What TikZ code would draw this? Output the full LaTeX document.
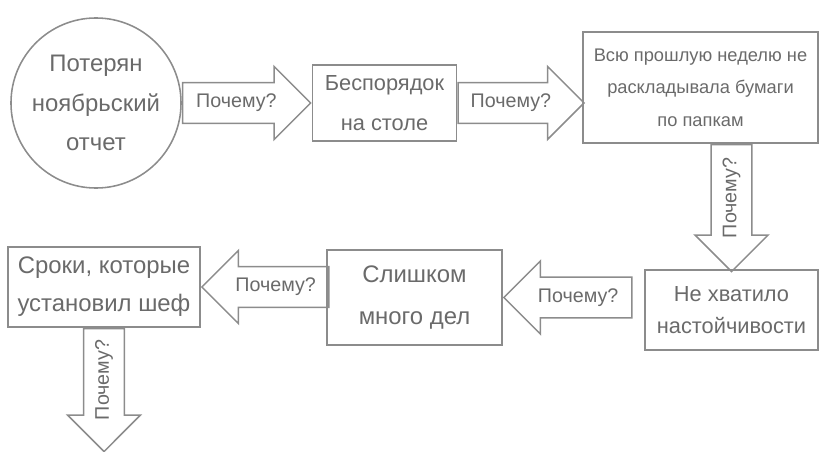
\documentclass[tikz,border=0pt]{standalone}
\usepackage{fontspec}
\setmainfont{Liberation Sans}
\usetikzlibrary{shapes.arrows,positioning}
\definecolor{WhyLine}{HTML}{8C8C8C}
\definecolor{WhyText}{HTML}{6A6A6A}

\begin{document}
\begin{tikzpicture}[
 x=0.025cm,y=-0.025cm,
 box/.style={draw=WhyLine,line width=1.1pt,align=center,inner sep=0pt,font=\fontsize{16}{28}\selectfont,text=WhyText},
 whyarrow/.style={single arrow,draw=WhyLine,line width=1.1pt,single arrow head extend=0.4cm,single arrow head indent=0pt,inner xsep=2pt,inner ysep=7.5pt,text height=10pt,text depth=3pt,font=\fontsize{14}{16}\selectfont,text=WhyText},
 toleft/.style={shape border rotate=180},
 todown/.style={rotate=90,shape border rotate=180}
]
\useasboundingbox (0,0) rectangle (820,452);
% top row
\node[box,circle,minimum size=4.25cm,font=\fontsize{17}{28}\selectfont] (lost) at (96,103) {Потерян\\ноябрьский\\отчет};
\node[whyarrow,anchor=tail,minimum height=3.2cm] (w1) at (lost.east) {Почему?};
\node[box,anchor=west,minimum width=3.6cm,minimum height=1.9cm,font=\fontsize{15.5}{28}\selectfont] (mess) at (w1.tip) {Беспорядок\\на столе};
\node[whyarrow,anchor=tail,minimum height=3.15cm] (w2) at (mess.east) {Почему?};
\node[box,minimum width=5.875cm,minimum height=2.775cm,font=\fontsize{13}{23}\selectfont] (week) at (700.5,87.5) {Всю прошлую неделю не\\раскладывала бумаги\\по папкам};
% bottom row
\node[box,minimum width=4.325cm,minimum height=2cm,font=\fontsize{15.5}{23}\selectfont] (insist) at (731.5,310) {Не хватило\\настойчивости};
\node[box,minimum width=4.375cm,minimum height=2.375cm,font=\fontsize{17}{30}\selectfont] (busy) at (414.5,297.5) {Слишком\\много дел};
\node[box,minimum width=4.8cm,minimum height=2cm,font=\fontsize{17}{27}\selectfont] (terms) at (104,287) {Сроки, которые\\установил шеф};
\node[whyarrow,todown,anchor=tail,minimum height=3.175cm] (w3) at (insist.north |- week.south) {Почему?};
\node[whyarrow,toleft,anchor=tip,minimum height=3.2cm] (w4) at (busy.east) {Почему?};
\node[whyarrow,toleft,anchor=tip,minimum height=3.175cm] (w5) at (terms.east) {Почему?};
\node[whyarrow,todown,anchor=tail,minimum height=3.075cm] (w6) at (terms.south) {Почему?};
\end{tikzpicture}
\end{document}
